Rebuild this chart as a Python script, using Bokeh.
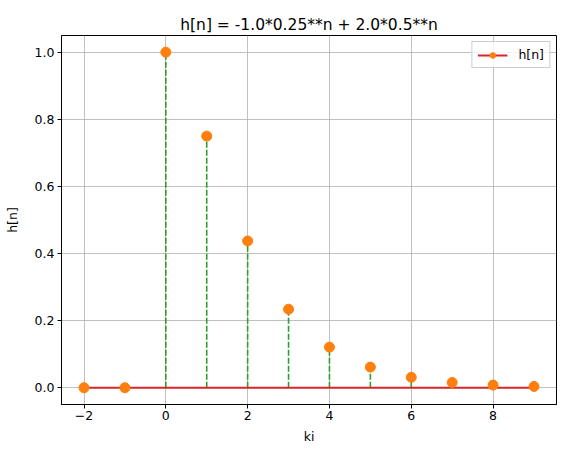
from bokeh.plotting import figure
from bokeh.models import Range1d, FixedTicker, Legend, LegendItem, ColumnDataSource
from bokeh.embed import file_html
from bokeh.resources import INLINE

n_vals = [-2, -1, 0, 1, 2, 3, 4, 5, 6, 7, 8, 9]
h_vals = [0.0, 0.0, 1.0, 0.75, 0.4375, 0.234, 0.121, 0.0615, 0.031, 0.0156, 0.0078, 0.0039]
x_ticks = [-2, 0, 2, 4, 6, 8]
y_ticks = [0.0, 0.2, 0.4, 0.6, 0.8, 1.0]
title = "h[n] = -1.0*0.25**n + 2.0*0.5**n"

src = ColumnDataSource(dict(n=n_vals, h=h_vals, zero=[0.0] * len(n_vals)))

p = figure(width=563, height=451, output_backend="svg", toolbar_location=None,
           x_range=Range1d(-2.55, 9.55), y_range=Range1d(-0.05, 1.05),
           min_border_left=61, min_border_right=7, min_border_top=35, min_border_bottom=47)
p.title.text = title
p.title.align = "center"
p.title.text_font = "DejaVu Sans"
p.title.text_font_size = "15.5px"
p.title.text_font_style = "normal"
p.title.text_color = "black"
p.title.offset = 0
p.title.standoff = 4

p.outline_line_color = "black"
p.outline_line_width = 1
p.background_fill_color = "white"
p.border_fill_color = "white"

for ax in (p.xaxis[0], p.yaxis[0]):
    ax.axis_line_color = "black"
    ax.major_tick_line_color = "black"
    ax.major_tick_out = 4
    ax.major_tick_in = 0
    ax.minor_tick_line_color = None
    ax.major_label_text_font = "DejaVu Sans"
    ax.major_label_text_font_size = "12.5px"
    ax.major_label_text_color = "black"
    ax.axis_label_text_font = "DejaVu Sans"
    ax.axis_label_text_font_size = "12.5px"
    ax.axis_label_text_font_style = "normal"
    ax.axis_label_text_color = "black"

p.xaxis.ticker = FixedTicker(ticks=x_ticks)
p.xaxis.major_label_overrides = {t: (str(t).replace("-", "\u2212")) for t in x_ticks}
p.yaxis.ticker = FixedTicker(ticks=y_ticks)
p.yaxis.major_label_overrides = {t: f"{t:.1f}" for t in y_ticks}
p.xaxis.axis_label = "ki"
p.yaxis.axis_label = "h[n]"
p.xaxis.major_label_standoff = 2
p.yaxis.major_label_standoff = 3
p.xaxis.axis_label_standoff = 6
p.yaxis.axis_label_standoff = 12

p.xgrid.ticker = FixedTicker(ticks=x_ticks)
p.ygrid.ticker = FixedTicker(ticks=y_ticks)
p.grid.grid_line_color = "#b0b0b0"
p.grid.grid_line_width = 0.8

stems = p.segment(x0="n", y0="zero", x1="n", y1="h", source=src,
                  line_color="#2ca02c", line_width=1.6, line_dash="6 2")
base = p.line(x=[n_vals[0], n_vals[-1]], y=[0, 0], line_color="#d62728", line_width=1.8)
marks = p.scatter(x="n", y="h", source=src, size=10, marker="circle",
                  fill_color="#ff7f0e", line_color="#ff7f0e")

legend = Legend(items=[LegendItem(label="h[n]", renderers=[base, marks])],
                location="top_right", label_text_font="DejaVu Sans",
                label_text_font_size="12.5px", label_text_color="black",
                border_line_color="#cccccc",
                border_line_alpha=1, background_fill_alpha=0.8,
                margin=6, padding=5, glyph_width=30, glyph_height=14,
                label_standoff=11, spacing=0)
p.add_layout(legend)

open("out.html", "w").write(file_html(p, INLINE))
